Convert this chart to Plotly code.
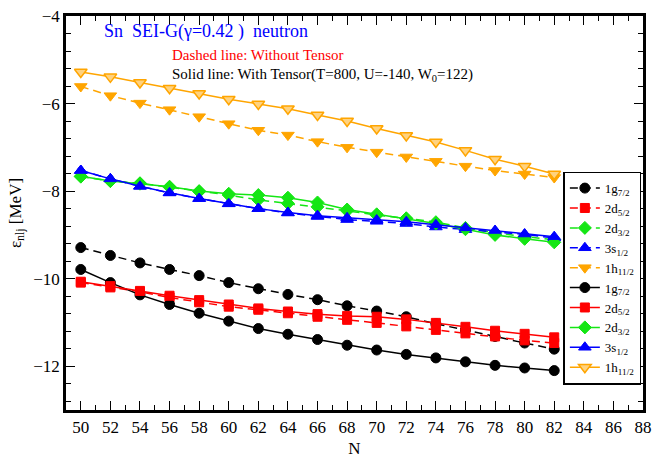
import plotly.graph_objects as go

N = [50, 52, 54, 56, 58, 60, 62, 64, 66, 68, 70, 72, 74, 76, 78, 80, 82]

# Without tensor (dashed)
g72_nt = [-9.29, -9.47, -9.64, -9.79, -9.93, -10.09, -10.23, -10.36, -10.48, -10.62, -10.74, -10.87, -11.03, -11.17, -11.32, -11.47, -11.61]
d52_nt = [-10.09, -10.20, -10.30, -10.43, -10.54, -10.64, -10.71, -10.79, -10.87, -10.94, -11.01, -11.09, -11.17, -11.25, -11.32, -11.41, -11.47]
d32_nt = [-7.67, -7.77, -7.82, -7.91, -8.01, -8.09, -8.20, -8.28, -8.36, -8.45, -8.55, -8.62, -8.71, -8.84, -8.95, -9.04, -9.11]
s12_nt = [-7.53, -7.72, -7.89, -8.04, -8.17, -8.29, -8.40, -8.50, -8.58, -8.65, -8.69, -8.74, -8.82, -8.88, -8.93, -8.99, -9.07]
h112_nt = [-5.61, -5.82, -5.99, -6.14, -6.30, -6.46, -6.61, -6.72, -6.87, -7.00, -7.11, -7.22, -7.32, -7.43, -7.53, -7.61, -7.69]

# With tensor (solid)
g72_t = [-9.79, -10.09, -10.37, -10.59, -10.79, -10.97, -11.14, -11.27, -11.39, -11.52, -11.63, -11.73, -11.81, -11.90, -11.98, -12.04, -12.10]
d52_t = [-10.07, -10.17, -10.28, -10.39, -10.49, -10.59, -10.68, -10.75, -10.81, -10.85, -10.87, -10.93, -11.01, -11.10, -11.19, -11.26, -11.34]
d32_t = [-7.66, -7.77, -7.83, -7.90, -8.00, -8.06, -8.09, -8.15, -8.26, -8.42, -8.53, -8.63, -8.74, -8.87, -9.00, -9.09, -9.17]
s12_t = [-7.53, -7.72, -7.89, -8.04, -8.17, -8.29, -8.40, -8.49, -8.56, -8.61, -8.66, -8.70, -8.77, -8.84, -8.90, -8.98, -9.04]
h112_t = [-5.28, -5.39, -5.52, -5.65, -5.77, -5.90, -6.01, -6.12, -6.26, -6.40, -6.57, -6.73, -6.88, -7.07, -7.27, -7.43, -7.61]

labels = ["1g<sub>7/2</sub>", "2d<sub>5/2</sub>", "2d<sub>3/2</sub>", "3s<sub>1/2</sub>", "1h<sub>11/2</sub>"]
colors = ["#000000", "#FF0000", "#14E614", "#0000FF", "#FFA500"]
symbols = ["circle", "square", "diamond", "triangle-up", "triangle-down"]
sizes = [10, 9, 10, 11, 11]

FONT = "Liberation Serif, Times New Roman, serif"

fig = go.Figure()

dashed = [g72_nt, d52_nt, d32_nt, s12_nt, h112_nt]
solid = [g72_t, d52_t, d32_t, s12_t, h112_t]

for i, ys in enumerate(dashed):
    fig.add_trace(go.Scatter(
        x=N, y=ys, mode="lines+markers", name=labels[i],
        line=dict(color=colors[i], width=1.5, dash="8px,5px"),
        marker=dict(symbol=symbols[i], size=sizes[i], color=colors[i],
                    line=dict(color=colors[i], width=1)),
    ))

for i, ys in enumerate(solid):
    if i == 4:
        mk = dict(symbol=symbols[i], size=sizes[i], color="#FFD27F",
                  line=dict(color=colors[i], width=1.5))
    else:
        mk = dict(symbol=symbols[i], size=sizes[i], color=colors[i],
                  line=dict(color=colors[i], width=1))
    fig.add_trace(go.Scatter(
        x=N, y=ys, mode="lines+markers", name=labels[i],
        line=dict(color=colors[i], width=1.5),
        marker=mk,
    ))

axis_common = dict(
    showline=True, linecolor="black", linewidth=2.5, mirror="allticks",
    ticks="inside", ticklen=9, tickwidth=1.2, tickcolor="black",
    showgrid=False, zeroline=False,
    tickfont=dict(family=FONT, size=17, color="black"),
)

fig.update_xaxes(
    range=[49, 88], tick0=50, dtick=2,
    minor=dict(ticks="inside", dtick=1, ticklen=5, tickwidth=1.2, tickcolor="black", showgrid=False),
    title=dict(text="N", font=dict(family=FONT, size=17, color="black"), standoff=6),
    **axis_common,
)
fig.update_yaxes(
    range=[-13, -4], tick0=-4, dtick=2,
    minor=dict(ticks="inside", tick0=-4, dtick=0.4, ticklen=5, tickwidth=1.2, tickcolor="black", showgrid=False),
    title=dict(text="ε<sub>nlj</sub> [MeV]", font=dict(family=FONT, size=17, color="black"), standoff=8),
    **axis_common,
)

fig.add_annotation(xref="paper", yref="paper", x=0.063, y=0.961, xanchor="left", yanchor="middle",
                   text="Sn\u00a0\u00a0SEI-G(γ=0.42\u00a0)\u00a0\u00a0neutron", showarrow=False,
                   font=dict(family=FONT, size=18, color="#0000FF"))
fig.add_annotation(xref="paper", yref="paper", x=0.180, y=0.900, xanchor="left", yanchor="middle",
                   text="Dashed line: Without Tensor", showarrow=False,
                   font=dict(family=FONT, size=15, color="#FF0000"))
fig.add_annotation(xref="paper", yref="paper", x=0.180, y=0.850, xanchor="left", yanchor="middle",
                   text="Solid line: With Tensor(T=800, U=-140, W<sub>0</sub>=122)", showarrow=False,
                   font=dict(family=FONT, size=15, color="black"))

fig.update_layout(
    width=659, height=462,
    margin=dict(l=66, r=7, t=16, b=35),
    paper_bgcolor="white", plot_bgcolor="white",
    font=dict(family=FONT, color="black"),
    legend=dict(
        x=0.862, y=0.605, xanchor="left", yanchor="top",
        bgcolor="white", bordercolor="black", borderwidth=1.5,
        font=dict(family=FONT, size=13, color="black"),
        tracegroupgap=0, itemwidth=30,
    ),
)

fig.write_html("out.html")
